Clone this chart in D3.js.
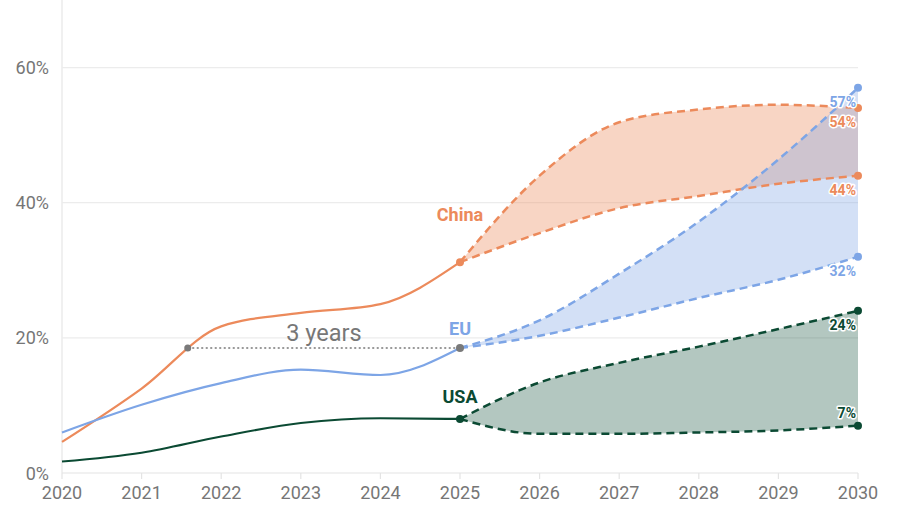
<!DOCTYPE html>
<html>
<head>
<meta charset="utf-8">
<script src="https://cdn.jsdelivr.net/npm/d3@7"></script>
<style>
  html, body { margin: 0; padding: 0; background: #fff; }
  svg { display: block; font-family: Roboto, "Noto Sans", sans-serif; }
</style>
</head>
<body>
<svg id="chart" width="900" height="506"></svg>
<script>
// ---- data ----
const histYears = [2020, 2021, 2022, 2023, 2024, 2025];
const chinaHist = [4.6, 12.5, 21.7, 23.7, 25.0, 31.2];
const euHist    = [6.0, 10.1, 13.3, 15.3, 14.5, 18.5];
const usaHist   = [1.7, 3.0, 5.4, 7.4, 8.1, 8.0];

const forecastYears = [2025, 2026, 2027, 2028, 2029, 2030];
const chinaHigh = [31.2, 44.0, 51.9, 53.8, 54.5, 54];
const chinaLow  = [31.2, 35.5, 39.2, 41.0, 42.8, 44];
const euHigh    = [18.5, 22.6, 29.5, 37.2, 46.4, 57];
const euLow     = [18.5, 20.3, 23.0, 25.9, 28.6, 32];
const usaHigh   = [8.0, 13.4, 16.3, 18.7, 21.3, 24];
const usaLow    = [8.0, 5.8, 5.8, 6.0, 6.3, 7];

const yTicks = [0, 20, 40, 60];
const yTickLabels = ["0%", "20%", "40%", "60%"];
const xTicks = [2020, 2021, 2022, 2023, 2024, 2025, 2026, 2027, 2028, 2029, 2030];
const seriesNames = ["China", "EU", "USA"];
const annotationText = "3 years";

// ---- styles ----
const colors = { China: "#EC8A5B", EU: "#7DA5E6", USA: "#0B4A33" };
const bandOpacity = { China: 0.36, EU: 0.34, USA: 0.31 };
const nameOffset = { China: -41, EU: -13, USA: -16 };

const svg = d3.select("#chart");
const x = d3.scaleLinear().domain([2020, 2030]).range([62, 858]);
const y = d3.scaleLinear().domain([0, 70]).range([473, 0]);
const curve = d3.curveMonotoneX;

// grid
const grid = svg.append("g");
grid.append("line").attr("x1", 62).attr("x2", 62).attr("y1", 0).attr("y2", y(0))
  .attr("stroke", "#e6e6e6").attr("stroke-width", 1.2);
grid.selectAll(".gy").data(yTicks).join("line")
  .attr("x1", x(2020)).attr("x2", x(2030))
  .attr("y1", d => y(d)).attr("y2", d => y(d))
  .attr("stroke", d => d === 0 ? "#e4e4e4" : "#ececec").attr("stroke-width", 1.2);
grid.selectAll(".gx").data(xTicks).join("line")
  .attr("x1", d => x(d)).attr("x2", d => x(d))
  .attr("y1", y(0)).attr("y2", y(0) + 6)
  .attr("stroke", "#e4e4e4").attr("stroke-width", 1.2);

// axis labels
svg.append("g").selectAll("text").data(yTicks).join("text")
  .attr("x", 49).attr("y", d => y(d) + 6.5)
  .attr("text-anchor", "end").attr("font-size", 18).attr("fill", "#767676")
  .text((d, i) => yTickLabels[i]);
svg.append("g").selectAll("text").data(xTicks).join("text")
  .attr("x", d => x(d)).attr("y", 499)
  .attr("text-anchor", "middle").attr("font-size", 18).attr("fill", "#767676")
  .text(d => d);

const hist = { China: chinaHist, EU: euHist, USA: usaHist };
const high = { China: chinaHigh, EU: euHigh, USA: usaHigh };
const low = { China: chinaLow, EU: euLow, USA: usaLow };

// bands
const area = d3.area().curve(curve)
  .x((d, i) => x(forecastYears[i]))
  .y0(d => y(d[0])).y1(d => y(d[1]));
seriesNames.forEach(name => {
  const pts = forecastYears.map((yr, i) => [low[name][i], high[name][i]]);
  svg.append("path").datum(pts).attr("d", area)
    .attr("fill", colors[name]).attr("fill-opacity", bandOpacity[name]);
});

// lines
const line = d3.line().curve(curve).x(d => x(d[0])).y(d => y(d[1]));
const histPaths = {};
seriesNames.forEach(name => {
  histPaths[name] = svg.append("path")
    .datum(histYears.map((yr, i) => [yr, hist[name][i]]))
    .attr("d", line).attr("fill", "none")
    .attr("stroke", colors[name]).attr("stroke-width", 2.2);
  [high, low].forEach(set => {
    svg.append("path")
      .datum(forecastYears.map((yr, i) => [yr, set[name][i]]))
      .attr("d", line).attr("fill", "none")
      .attr("stroke", colors[name]).attr("stroke-width", 2.5)
      .attr("stroke-dasharray", "8,5");
  });
});

// annotation: where China reached the EU's 2025 level
const euNow = euHist[euHist.length - 1];
const targetY = y(euNow);
const cp = histPaths.China.node();
let lo = 0, hi = cp.getTotalLength();
for (let k = 0; k < 40; k++) {
  const mid = (lo + hi) / 2;
  if (cp.getPointAtLength(mid).y > targetY) lo = mid; else hi = mid;
}
const crossX = cp.getPointAtLength((lo + hi) / 2).x;
const endX = x(2025);
svg.append("line").attr("x1", crossX).attr("x2", endX)
  .attr("y1", targetY).attr("y2", targetY)
  .attr("stroke", "#7a7a7a").attr("stroke-width", 1.4)
  .attr("stroke-dasharray", "2,2.5");
svg.append("text").attr("x", (crossX + endX) / 2).attr("y", targetY - 7)
  .attr("text-anchor", "middle").attr("font-size", 23.5).attr("fill", "#777")
  .text(annotationText);

// 2025 dots
svg.append("circle").attr("cx", x(2025)).attr("cy", y(chinaHist[5])).attr("r", 4).attr("fill", colors.China);
svg.append("circle").attr("cx", x(2025)).attr("cy", y(usaHist[5])).attr("r", 4).attr("fill", colors.USA);
svg.append("circle").attr("cx", crossX).attr("cy", targetY).attr("r", 3.5).attr("fill", "#7a7a7a");
svg.append("circle").attr("cx", endX).attr("cy", targetY).attr("r", 4).attr("fill", "#7a7a7a");

// series names
seriesNames.forEach(name => {
  svg.append("text").attr("x", x(2025)).attr("y", y(hist[name][5]) + nameOffset[name])
    .attr("text-anchor", "middle").attr("font-size", 18).attr("font-weight", 700)
    .attr("fill", colors[name]).text(name);
});

// end dots + labels
const endItems = [];
seriesNames.forEach(name => {
  endItems.push({ name, v: high[name][5], above: false });
  endItems.push({ name, v: low[name][5], above: name === "USA" });
});
endItems.forEach(d => {
  svg.append("circle").attr("cx", x(2030)).attr("cy", y(d.v)).attr("r", 4).attr("fill", colors[d.name]);
});
endItems.forEach(d => {
  svg.append("text").attr("x", x(2030) - 2).attr("y", y(d.v) + (d.above ? -8 : 19))
    .attr("text-anchor", "end").attr("font-size", 14).attr("font-weight", 700)
    .attr("fill", colors[d.name]).attr("stroke", "#fff").attr("stroke-width", 3)
    .attr("stroke-linejoin", "round").attr("paint-order", "stroke")
    .text(d.v + "%");
});
</script>
</body>
</html>
